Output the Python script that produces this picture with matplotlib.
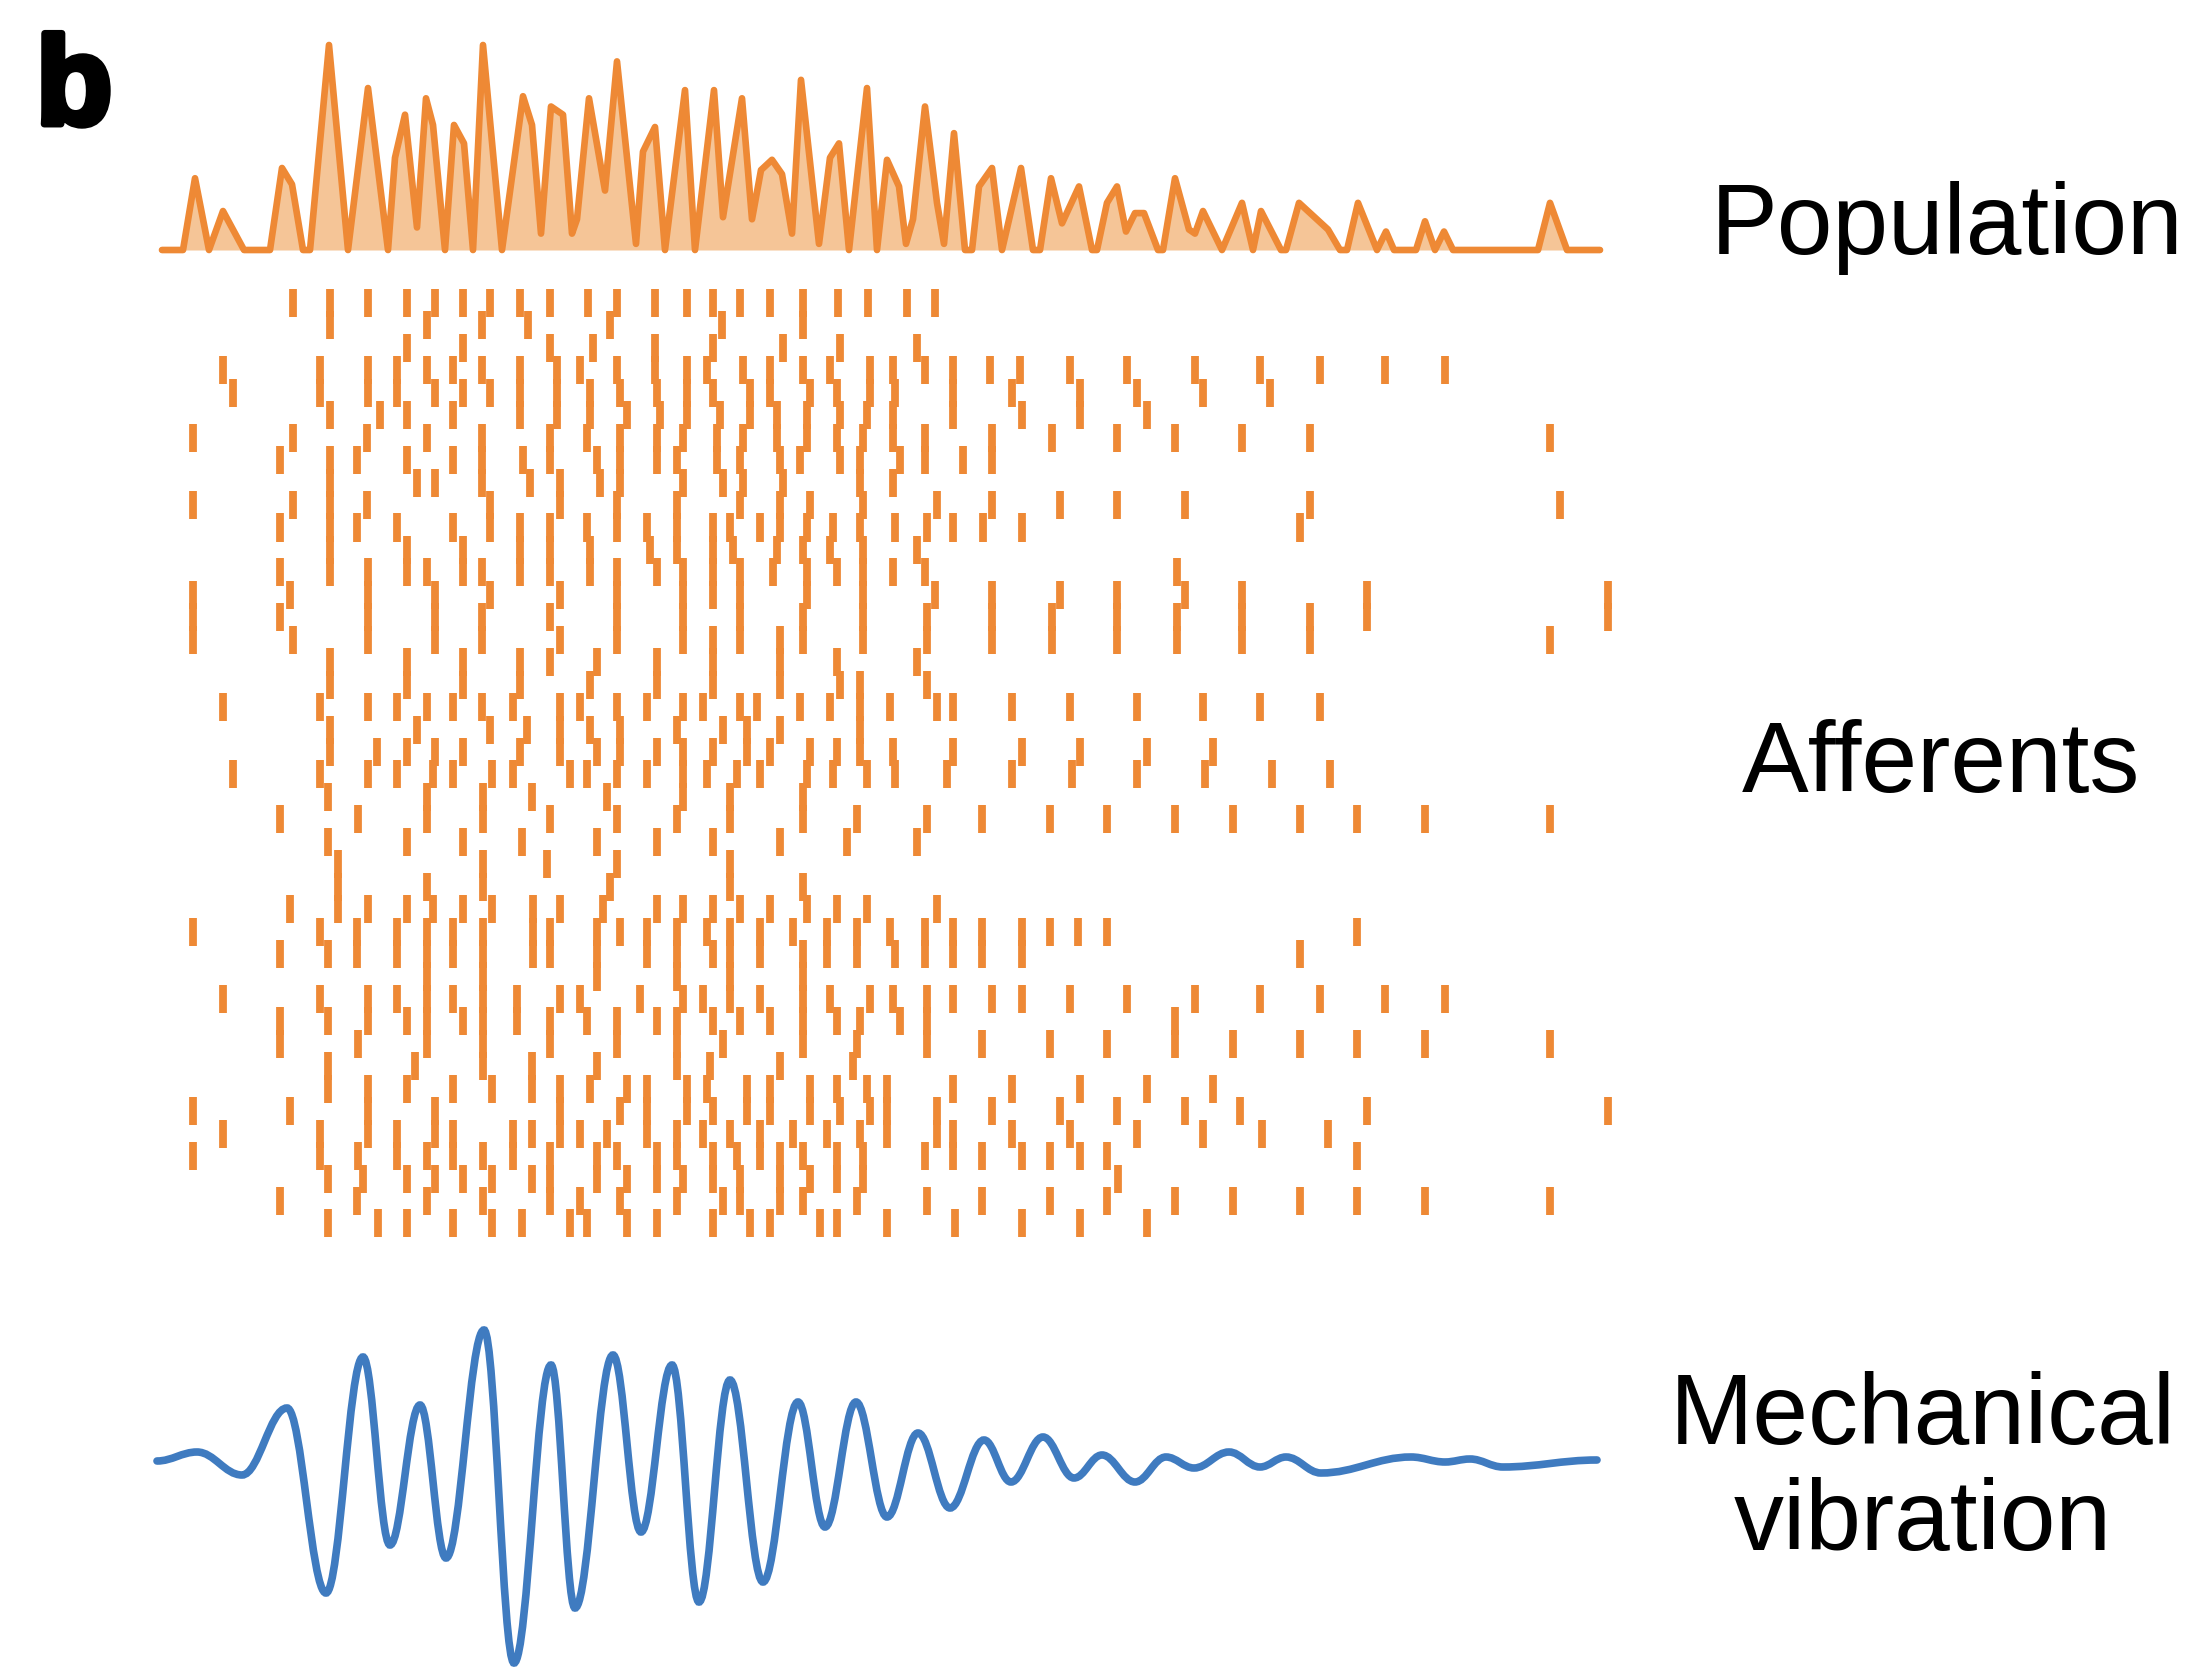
import numpy as np
import matplotlib
matplotlib.use("Agg")
import matplotlib.pyplot as plt
from matplotlib.path import Path
from matplotlib.patches import PathPatch
import matplotlib.patheffects as pe

W, H, DPI = 2203, 1668, 100

# ---------------- data (time axis in arbitrary units) ----------------
pop_t = [162, 183, 195, 209, 223, 244, 270, 282, 292, 303, 310, 329, 348, 368, 388, 395, 405, 417,
         426, 433, 445, 454, 464, 473, 483, 502, 523, 532, 541, 551, 563, 572, 577, 589, 605, 617,
         636, 643, 655, 665, 685, 695, 714, 723, 742, 752, 761, 772, 782, 792, 801, 819, 830, 839,
         849, 867, 877, 887, 899, 906, 913, 925, 937, 944, 954, 965, 972, 979, 992, 1002, 1021,
         1033, 1040, 1051, 1062, 1079, 1092, 1097, 1107, 1117, 1126, 1135, 1144, 1158, 1163, 1175,
         1189, 1195, 1203, 1222, 1242, 1253, 1261, 1281, 1286, 1299, 1328, 1340, 1347, 1358, 1377,
         1386, 1394, 1416, 1425, 1435, 1444, 1453, 1538, 1550, 1567, 1600]
pop_rate = [0, 0, 0.35, 0, 0.19, 0, 0, 0.40, 0.32, 0, 0, 1.0, 0, 0.79, 0, 0.45, 0.66, 0.11,
            0.74, 0.61, 0, 0.61, 0.52, 0, 1.0, 0, 0.75, 0.61, 0.08, 0.70, 0.66, 0.08, 0.15, 0.74, 0.29, 0.92,
            0.03, 0.48, 0.60, 0, 0.78, 0, 0.78, 0.16, 0.74, 0.15, 0.39, 0.44, 0.37, 0.08, 0.83, 0.03, 0.45, 0.52,
            0, 0.79, 0, 0.44, 0.31, 0.03, 0.15, 0.70, 0.23, 0.03, 0.57, 0, 0, 0.31, 0.40, 0, 0.40,
            0, 0, 0.35, 0.13, 0.31, 0, 0, 0.23, 0.31, 0.09, 0.18, 0.18, 0, 0, 0.35,
            0.10, 0.08, 0.19, 0, 0.23, 0, 0.19, 0, 0, 0.23, 0.10, 0, 0, 0.23, 0,
            0.09, 0, 0, 0.14, 0, 0.09, 0, 0, 0.23, 0, 0]

spike_rows = [
    [293, 330, 368, 407, 435, 463, 490, 520, 550, 588, 617, 655, 687, 713, 740, 770, 803, 838, 868, 907, 935],
    [330, 427, 482, 528, 610, 722, 803],
    [407, 463, 550, 593, 655, 713, 783, 840, 917],
    [223, 320, 368, 397, 427, 453, 482, 520, 557, 580, 617, 655, 687, 707, 743, 770, 803, 830, 870, 893, 925, 953, 990, 1020, 1070, 1127, 1195, 1260, 1320, 1385, 1445],
    [233, 320, 368, 397, 435, 463, 490, 520, 557, 590, 620, 657, 687, 713, 750, 770, 810, 837, 870, 895, 953, 1012, 1080, 1137, 1203, 1270],
    [330, 380, 407, 453, 520, 557, 590, 627, 660, 687, 720, 750, 777, 807, 840, 867, 893, 953, 1022, 1080, 1147],
    [193, 293, 367, 427, 482, 550, 587, 620, 657, 683, 717, 743, 777, 807, 837, 863, 893, 925, 992, 1052, 1117, 1175, 1242, 1310, 1550],
    [280, 330, 357, 407, 453, 482, 523, 550, 597, 620, 657, 677, 717, 740, 780, 800, 840, 860, 900, 925, 963, 992],
    [330, 417, 435, 482, 530, 560, 600, 620, 683, 723, 743, 783, 860, 893],
    [193, 293, 330, 367, 490, 560, 617, 677, 740, 780, 810, 863, 937, 992, 1060, 1117, 1185, 1310, 1560],
    [280, 330, 357, 397, 453, 490, 520, 550, 587, 617, 647, 677, 713, 730, 760, 780, 807, 833, 860, 895, 927, 953, 983, 1022, 1300],
    [330, 407, 463, 520, 550, 590, 650, 677, 713, 733, 777, 803, 830, 863, 917],
    [280, 330, 368, 407, 427, 463, 482, 520, 550, 590, 617, 657, 683, 713, 740, 773, 807, 837, 863, 893, 925, 1177],
    [193, 290, 368, 435, 490, 560, 617, 683, 713, 740, 807, 863, 935, 992, 1060, 1117, 1185, 1242, 1367, 1608],
    [193, 280, 368, 435, 482, 550, 617, 683, 740, 803, 863, 927, 992, 1052, 1117, 1177, 1242, 1310, 1367, 1608],
    [193, 293, 368, 435, 482, 560, 617, 683, 713, 740, 780, 803, 863, 927, 992, 1052, 1117, 1177, 1242, 1310, 1550],
    [330, 407, 463, 520, 550, 597, 657, 713, 780, 837, 917],
    [330, 407, 463, 520, 590, 657, 713, 780, 840, 860, 927],
    [223, 320, 368, 397, 427, 453, 482, 513, 560, 580, 617, 647, 683, 703, 740, 757, 800, 830, 860, 890, 937, 953, 1012, 1070, 1137, 1203, 1260, 1320],
    [330, 417, 490, 527, 560, 590, 620, 677, 723, 747, 780, 860],
    [330, 377, 407, 435, 463, 520, 560, 597, 620, 657, 683, 713, 747, 770, 810, 837, 860, 893, 953, 1022, 1080, 1147, 1213],
    [233, 320, 368, 397, 433, 453, 492, 513, 570, 587, 617, 647, 683, 707, 737, 760, 807, 833, 867, 895, 947, 1012, 1072, 1137, 1205, 1272, 1330],
    [328, 427, 483, 532, 607, 683, 730, 803],
    [280, 358, 427, 483, 550, 617, 677, 730, 803, 857, 927, 982, 1050, 1107, 1175, 1233, 1300, 1357, 1425, 1550],
    [328, 407, 463, 522, 597, 657, 713, 780, 847, 917],
    [338, 483, 547, 617, 730],
    [338, 427, 483, 610, 730, 803],
    [290, 338, 368, 407, 433, 463, 492, 533, 560, 603, 657, 683, 713, 740, 770, 807, 837, 867, 937],
    [193, 320, 357, 397, 427, 453, 483, 533, 550, 597, 620, 647, 677, 707, 730, 760, 793, 827, 857, 890, 925, 953, 982, 1022, 1050, 1078, 1107, 1357],
    [280, 328, 357, 397, 427, 453, 483, 533, 550, 597, 647, 677, 713, 730, 760, 803, 827, 857, 895, 925, 953, 982, 1022, 1300],
    [427, 483, 597, 677, 730, 803],
    [223, 320, 368, 397, 427, 453, 483, 517, 560, 580, 640, 683, 703, 730, 760, 803, 830, 870, 893, 927, 953, 992, 1022, 1070, 1127, 1195, 1260, 1320, 1385, 1445],
    [280, 328, 368, 407, 427, 463, 483, 517, 550, 587, 617, 657, 677, 713, 740, 770, 803, 837, 860, 900, 927, 1175],
    [280, 358, 427, 483, 550, 617, 677, 723, 803, 857, 927, 982, 1050, 1107, 1175, 1233, 1300, 1357, 1425, 1550],
    [328, 415, 483, 532, 597, 677, 710, 780, 853],
    [328, 368, 407, 453, 492, 532, 560, 590, 627, 647, 687, 707, 747, 770, 810, 837, 867, 887, 953, 1012, 1080, 1147, 1213],
    [193, 290, 368, 435, 560, 620, 647, 687, 713, 747, 770, 810, 840, 870, 887, 937, 992, 1060, 1117, 1185, 1240, 1367, 1608],
    [223, 320, 368, 397, 435, 453, 513, 532, 560, 580, 607, 647, 677, 703, 730, 760, 793, 827, 860, 887, 937, 953, 1012, 1070, 1137, 1203, 1262, 1328],
    [193, 320, 358, 397, 427, 453, 483, 513, 550, 597, 617, 657, 677, 713, 737, 760, 780, 803, 837, 863, 925, 953, 982, 1022, 1050, 1080, 1107, 1357],
    [328, 363, 407, 435, 463, 492, 532, 550, 597, 627, 657, 683, 713, 740, 780, 810, 837, 863, 1118],
    [280, 357, 427, 483, 550, 580, 620, 677, 723, 740, 780, 803, 857, 927, 982, 1050, 1107, 1175, 1233, 1300, 1357, 1425, 1550],
    [328, 378, 407, 453, 492, 522, 570, 587, 627, 657, 713, 750, 770, 820, 837, 887, 955, 1022, 1080, 1147],
]

# vibration extrema (time, displacement a.u.)
vib_t = [157, 197, 242, 287, 326, 363, 390, 420, 446, 484, 514, 551, 575, 613, 641, 672, 699, 730,
         763, 798, 825, 856, 887, 918, 950, 984, 1011, 1043, 1074, 1102, 1135, 1166, 1194, 1229,
         1260, 1286, 1321, 1411, 1445, 1470, 1503, 1597]
vib_v = [0.02, 0.11, -0.12, 0.55, -1.30, 1.06, -0.82, 0.58, -0.95, 1.33, -2.00, 0.98, -1.45, 1.08,
         -0.69, 0.98, -1.39, 0.83, -1.19, 0.61, -0.64, 0.61, -0.54, 0.30, -0.45, 0.23, -0.19, 0.26,
         -0.15, 0.08, -0.19, 0.06, -0.05, 0.11, -0.04, 0.06, -0.10, 0.06, 0.01, 0.04, -0.04, 0.03]

labels = ["Population", "Afferents", "Mechanical\nvibration"]
panel_letter = "b"

ORANGE = "#EE8935"
FILL = "#F5C597"
BLUE = "#3F7BC0"
FONT = "Liberation Sans"

# ---------------- figure ----------------
fig = plt.figure(figsize=(W / DPI, H / DPI), dpi=DPI)
X0, X1 = 150, 1620


def rect(top, bottom):
    return [X0 / W, 1 - bottom / H, (X1 - X0) / W, (bottom - top) / H]


# population
ax_pop = fig.add_axes(rect(45, 250))
ax_pop.set_xlim(X0, X1)
ax_pop.set_ylim(0, 1)
ax_pop.fill_between(pop_t, pop_rate, 0, color=FILL, lw=0)
ax_pop.plot(pop_t, pop_rate, color=ORANGE, lw=4.8, solid_joinstyle="round",
            solid_capstyle="round", clip_on=False)
ax_pop.axis("off")

# raster
row0_y, row_sp = 303, 22.45
ax_r = fig.add_axes(rect(280, 1250))
ax_r.set_xlim(X0, X1)
ax_r.set_ylim((1250 - row0_y) / row_sp, (280 - row0_y) / row_sp)
ax_r.eventplot(spike_rows, lineoffsets=np.arange(len(spike_rows)), linelengths=1.25,
               linewidths=5.6, colors=ORANGE)
ax_r.axis("off")

# vibration
ax_v = fig.add_axes(rect(1300, 1668))
ax_v.set_xlim(X0, X1)
ax_v.set_ylim((1463 - 1668) / 100, (1463 - 1300) / 100)
verts = [(vib_t[0], vib_v[0])]
codes = [Path.MOVETO]
for i in range(1, len(vib_t)):
    d = (vib_t[i] - vib_t[i - 1]) * 0.38
    verts += [(vib_t[i - 1] + d, vib_v[i - 1]), (vib_t[i] - d, vib_v[i]), (vib_t[i], vib_v[i])]
    codes += [Path.CURVE4] * 3
ax_v.add_patch(PathPatch(Path(verts, codes), fill=False, edgecolor=BLUE, lw=5.5,
                         capstyle="round", clip_on=False))
ax_v.axis("off")

# labels
fig.text(1947 / W, 1 - 228 / H, labels[0], ha="center", va="center", fontsize=72, family=FONT)
fig.text(1941 / W, 1 - 766 / H, labels[1], ha="center", va="center", fontsize=72, family=FONT)
fig.text(1923 / W, 1 - 1471 / H, labels[2], ha="center", va="center", fontsize=72, family=FONT,
         linespacing=1.17, multialignment="center")
fig.text(36 / W, 1 - 124 / H, panel_letter, ha="left", va="baseline", fontsize=90,
         fontweight="bold", family=FONT,
         path_effects=[pe.withStroke(linewidth=5, foreground="black")])

fig.savefig("out.png", dpi=DPI, facecolor="white")
